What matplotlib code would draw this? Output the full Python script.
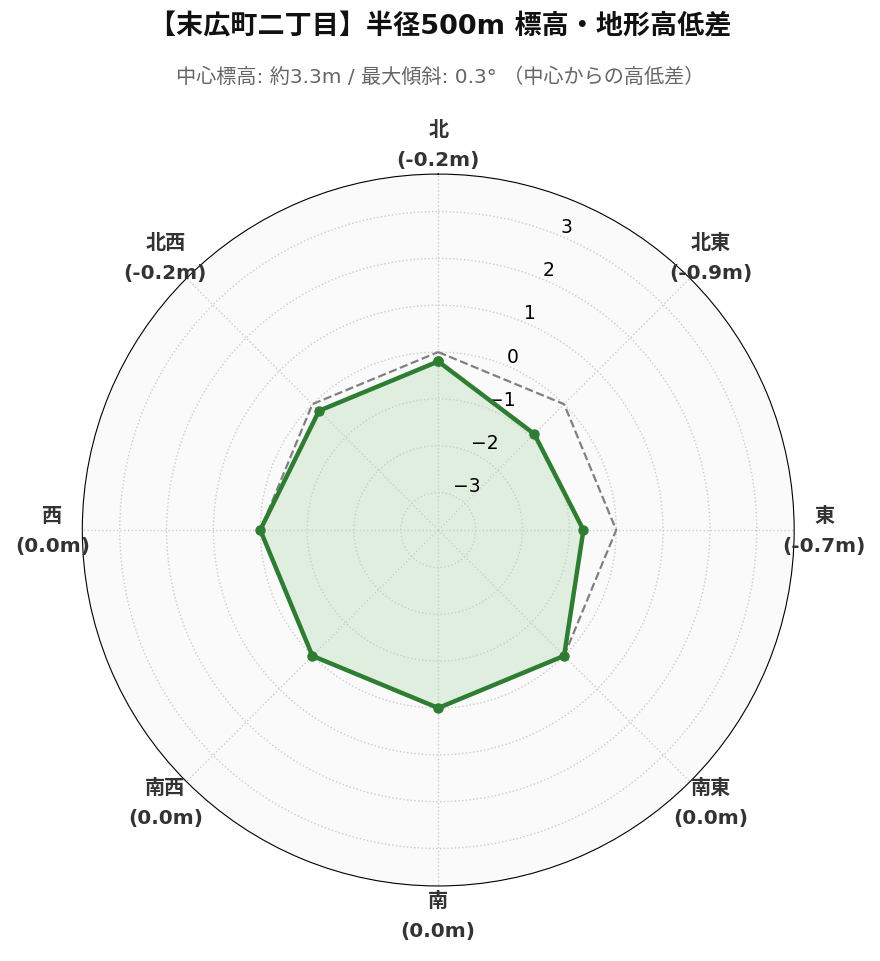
import numpy as np
import matplotlib
matplotlib.use("Agg")
import matplotlib.pyplot as plt

plt.rcParams['font.family'] = ['DejaVu Sans', 'Noto Sans CJK JP']

directions = ['北', '北東', '東', '南東', '南', '南西', '西', '北西']
diffs = [-0.2, -0.9, -0.7, 0.0, 0.0, 0.0, 0.0, -0.2]
title = '【末広町二丁目】半径500m 標高・地形高低差'
subtitle = '中心標高: 約3.3m / 最大傾斜: 0.3° （中心からの高低差）'

angles = np.linspace(0, 2 * np.pi, len(directions), endpoint=False)
ang_c = np.append(angles, angles[0])
val_c = np.append(diffs, diffs[0])
rmin, rmax = -3.8, 3.8

fig = plt.figure(figsize=(8.8, 9.62), dpi=100)
ax = fig.add_axes([0.093, 0.078, 0.81, 0.74], projection='polar')
ax.set_theta_zero_location('N')
ax.set_theta_direction(-1)
ax.set_facecolor('#fafafa')

ax.plot(ang_c, np.zeros_like(val_c), color='gray', linestyle='--', linewidth=1.6)
ax.fill(ang_c, val_c, color='#4caf50', alpha=0.15)
ax.plot(ang_c, val_c, color='#2e7d32', linewidth=3.2, marker='o', markersize=6.5)

ax.set_ylim(rmin, rmax)
ax.set_yticks([-3, -2, -1, 0, 1, 2, 3])
ax.set_rlabel_position(22.5)
ax.tick_params(axis='y', labelsize=13.5)

ax.set_xticks(angles)
ax.set_xticklabels([])
ax.grid(True, color='#cccccc', linestyle=':', linewidth=1)

# direction labels: name on top, value below
for a, d, v in zip(angles, directions, diffs):
    dx, dy = 21.6 * np.sin(a), 21.6 * np.cos(a)
    ax.annotate(d, xy=(a, rmax), xytext=(dx, dy + 10.8),
                textcoords='offset points', ha='center', va='center',
                fontsize=14.5, fontweight='bold', color='#333333',
                annotation_clip=False)
    ax.annotate(f'({v:.1f}m)', xy=(a, rmax), xytext=(dx, dy - 10.8),
                textcoords='offset points', ha='center', va='center',
                fontsize=14.5, fontweight='bold', color='#333333',
                annotation_clip=False)

fig.text(0.5, 0.972, title, ha='center', va='center', fontsize=19.5,
         fontweight='bold', color='#111111')
fig.text(0.5, 0.92, subtitle, ha='center', va='center', fontsize=14.5,
         color='#666666')

fig.savefig('out.png', dpi=100)
